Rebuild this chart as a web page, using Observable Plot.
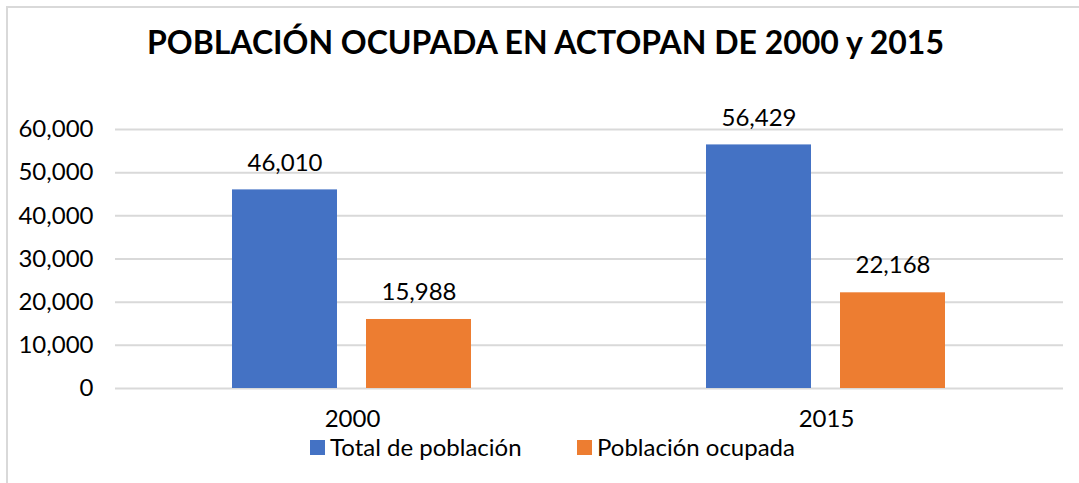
<!DOCTYPE html>
<html>
<head>
<meta charset="utf-8">
<script src="https://cdn.jsdelivr.net/npm/d3@7"></script>
<script src="https://cdn.jsdelivr.net/npm/@observablehq/plot@0.6"></script>
<style>
  html, body { margin: 0; padding: 0; background: #fff; }
  #wrap { position: relative; width: 1079px; height: 483px; overflow: hidden; font-family: Lato, sans-serif; color: #000; }
  #frame { position: absolute; left: 6px; top: 6px; width: 1100px; height: 500px; border: 2px solid #d9d9d9; box-sizing: border-box; }
  #title { position: absolute; left: 0; top: 26px; width: 1091px; text-align: center; font-weight: 700; font-size: 32px; line-height: 1; white-space: nowrap; }
  #chart { position: absolute; left: 0; top: 0; }
  .leg { position: absolute; top: 435px; display: flex; align-items: center; font-size: 24px; line-height: 1; white-space: nowrap; }
  .sw { width: 15px; height: 15px; margin-right: 5px; }
</style>
</head>
<body>
<div id="wrap">
  <div id="frame"></div>
  <div id="chart"></div>
  <div id="title">POBLACIÓN OCUPADA EN ACTOPAN DE 2000 y 2015</div>
  <div id="legend"></div>
</div>
<script>
const years = ["2000", "2015"];
const series = ["Total de población", "Población ocupada"];
const totalValues = [46010, 56429];
const ocupadaValues = [15988, 22168];
const colors = ["#4472C4", "#ED7D31"];
const yTicks = [0, 10000, 20000, 30000, 40000, 50000, 60000];

const data = [];
years.forEach((yr, i) => {
  data.push({year: yr, series: series[0], value: totalValues[i]});
  data.push({year: yr, series: series[1], value: ocupadaValues[i]});
});
const fmt = d3.format(",");

const chart = Plot.plot({
  width: 1079,
  height: 483,
  marginLeft: 114,
  marginRight: 16,
  marginTop: 129,
  marginBottom: 95,
  style: {fontFamily: "Lato, sans-serif", fontSize: "24px", background: "transparent", color: "#000", overflow: "visible"},
  fx: {domain: years, padding: 0, label: null, tickSize: 0, tickPadding: 21, axis: "bottom"},
  x: {domain: series, paddingInner: 0.2148, paddingOuter: 0.8648, axis: null},
  y: {domain: [0, 60000], ticks: yTicks, tickFormat: fmt, label: null, tickSize: 0, tickPadding: 22},
  color: {domain: series, range: colors},
  marks: [
    Plot.ruleY(yTicks, {stroke: "#d9d9d9", strokeWidth: 2}),
    Plot.barY(data, {fx: "year", x: "series", y: "value", fill: "series"}),
    Plot.text(data, {fx: "year", x: "series", y: "value", text: d => fmt(d.value), dy: -27, fontSize: 24, fill: "#000"})
  ]
});
document.getElementById("chart").appendChild(chart);

const legend = document.getElementById("legend");
const legLeft = [310, 577];
series.forEach((s, i) => {
  const item = document.createElement("div");
  item.className = "leg";
  item.style.left = legLeft[i] + "px";
  const sw = document.createElement("span");
  sw.className = "sw";
  sw.style.background = colors[i];
  const t = document.createElement("span");
  t.textContent = s;
  item.appendChild(sw);
  item.appendChild(t);
  legend.appendChild(item);
});
</script>
</body>
</html>
